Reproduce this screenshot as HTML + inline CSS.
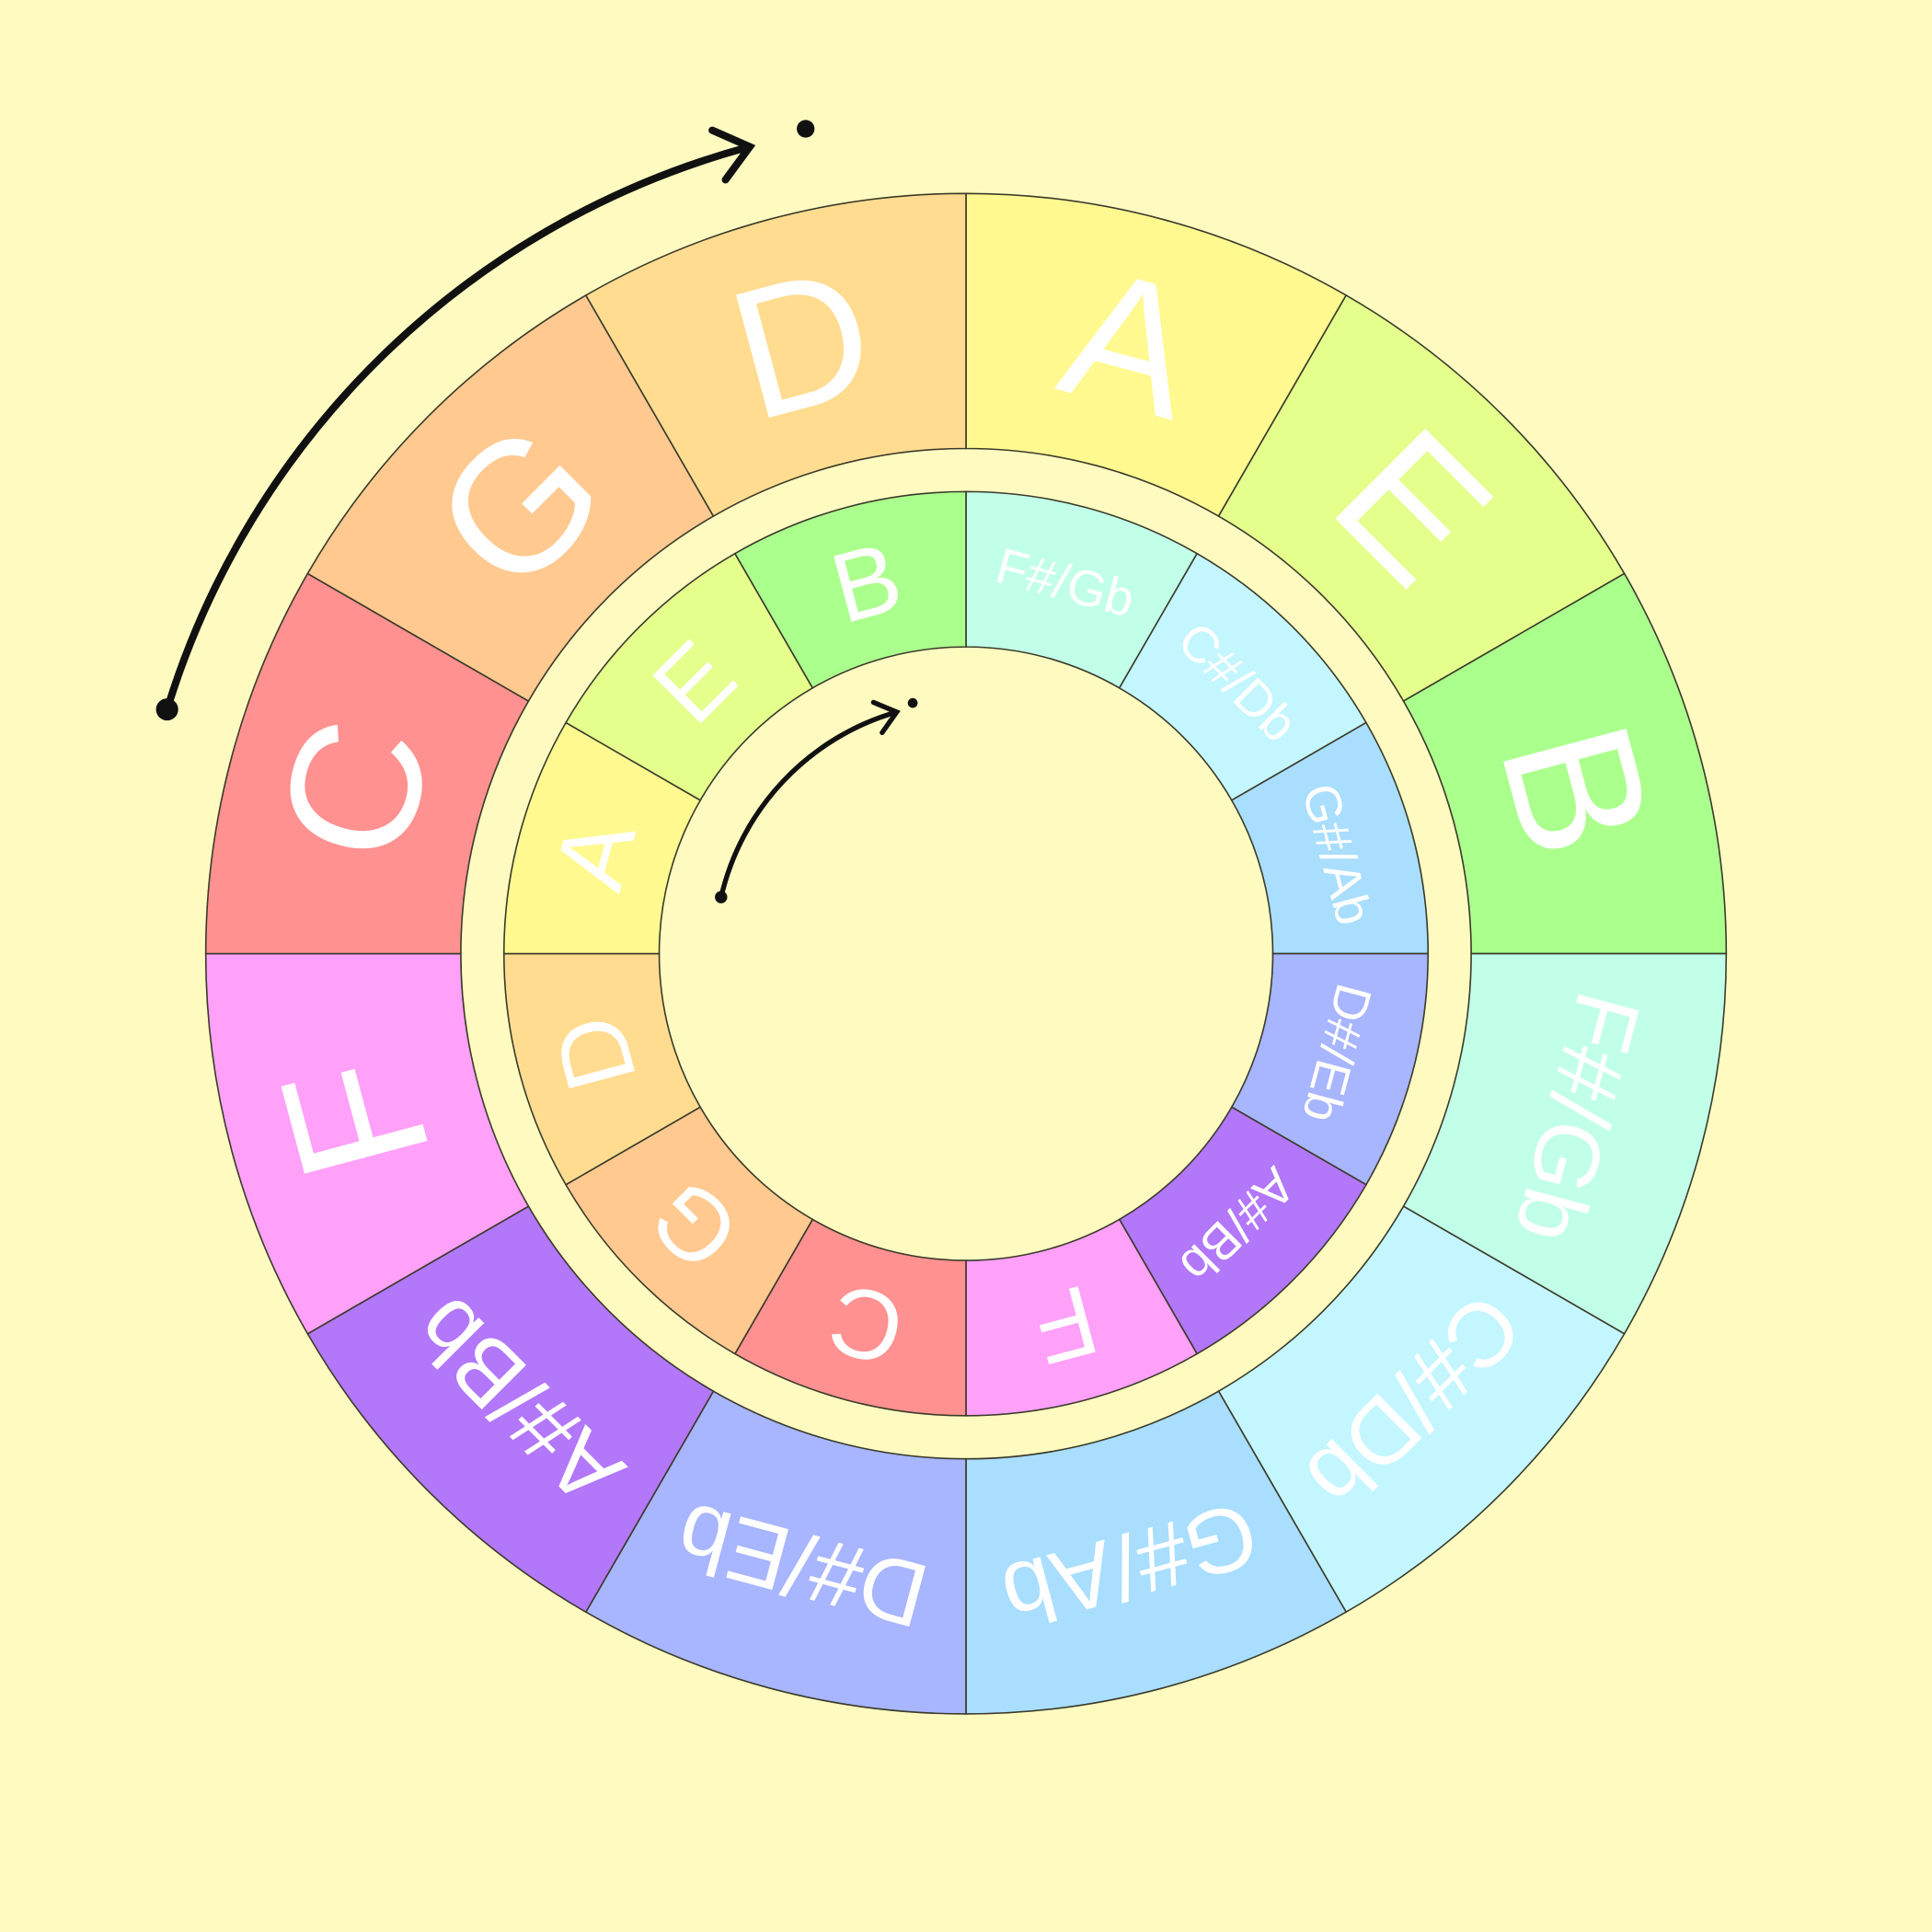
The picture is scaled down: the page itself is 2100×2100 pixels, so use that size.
<!DOCTYPE html>
<html><head><meta charset="utf-8"><style>
html,body{margin:0;padding:0;background:#fffbc0;}
svg{display:block;}
</style></head><body>
<svg id="chart" width="2100" height="2100" viewBox="0 0 1568 1568" xmlns="http://www.w3.org/2000/svg">
<rect x="0" y="0" width="1568" height="1568" fill="#fffbc0"/>
<g id="outer"></g>
<g id="inner"></g>
<g id="arrows"></g>
</svg>
<script>
const outerNotes = ["A","E","B","F#/Gb","C#/Db","G#/Ab","D#/Eb","A#/Bb","F","C","G","D"];
const innerNotes = ["F#/Gb","C#/Db","G#/Ab","D#/Eb","A#/Bb","F","C","G","D","A","E","B"];
const noteColors = {"A":"#fff98f","E":"#e4ff8c","B":"#abff8d","F#/Gb":"#c1ffe8","C#/Db":"#c4f6ff","G#/Ab":"#a9defe","D#/Eb":"#a8b5ff","A#/Bb":"#b377fa","F":"#ffa0f9","C":"#ff9190","G":"#ffc990","D":"#ffdc90"};
const outerArrowAngles = [287, 345];
const innerArrowAngles = [283, 344];

const NS = "http://www.w3.org/2000/svg";
const cx = 784, cy = 774;
function pt(r, a){ const t = (a-90)*Math.PI/180; return [cx + r*Math.cos(t), cy + r*Math.sin(t)]; }
function sector(r0, r1, a0, a1){
  const p1=pt(r1,a0), p2=pt(r1,a1), p3=pt(r0,a1), p4=pt(r0,a0);
  return `M${p1[0]},${p1[1]} A${r1},${r1} 0 0 1 ${p2[0]},${p2[1]} L${p3[0]},${p3[1]} A${r0},${r0} 0 0 0 ${p4[0]},${p4[1]} Z`;
}
function ring(gid, notes, r0, r1, fsSingle, fsMulti){
  const g = document.getElementById(gid);
  const step = 360/notes.length;
  notes.forEach((n,i)=>{
    const a0=i*step, a1=a0+step, am=a0+step/2;
    const p = document.createElementNS(NS,"path");
    p.setAttribute("d", sector(r0,r1,a0,a1));
    p.setAttribute("fill", noteColors[n]);
    p.setAttribute("stroke", "#3a3a2a");
    p.setAttribute("stroke-width", "1.2");
    
    
    g.appendChild(p);
    const rm=(r0+r1)/2, q=pt(rm,am);
    const t = document.createElementNS(NS,"text");
    t.setAttribute("x", q[0]); t.setAttribute("y", q[1]);
    t.setAttribute("transform", `rotate(${am} ${q[0]} ${q[1]})`);
    t.setAttribute("text-anchor","middle");
    t.setAttribute("dominant-baseline","central");
    t.setAttribute("fill","#ffffff");
    t.setAttribute("font-family","'Liberation Sans', sans-serif");
    t.setAttribute("font-size", n.length>1 ? fsMulti : fsSingle);
    t.textContent = n;
    
    
    g.appendChild(t);
  });
}
ring("outer", outerNotes, 410, 617, 150, 74);
ring("inner", innerNotes, 249, 375, 80, 41);

function arrow(r, angs, sw, head, dotR){
  const g = document.getElementById("arrows");
  const [a0,a1] = angs;
  const p0=pt(r,a0), p1=pt(r,a1);
  const path = document.createElementNS(NS,"path");
  path.setAttribute("d", `M${p0[0]},${p0[1]} A${r},${r} 0 0 1 ${p1[0]},${p1[1]}`);
  path.setAttribute("fill","none"); path.setAttribute("stroke","#111");
  path.setAttribute("stroke-width", sw); path.setAttribute("stroke-linecap","round");
  
  
  g.appendChild(path);
  const t = (a1-90)*Math.PI/180;
  const tx = -Math.sin(t), ty = Math.cos(t);
  const nx = Math.cos(t), ny = Math.sin(t);
  const h = document.createElementNS(NS,"path");
  const b1 = [p1[0]-tx*head+nx*head*0.8, p1[1]-ty*head+ny*head*0.8];
  const b2 = [p1[0]-tx*head-nx*head*0.8, p1[1]-ty*head-ny*head*0.8];
  h.setAttribute("d", `M${b1[0]},${b1[1]} L${p1[0]},${p1[1]} L${b2[0]},${b2[1]}`);
  h.setAttribute("fill","none"); h.setAttribute("stroke","#111");
  h.setAttribute("stroke-width", sw); h.setAttribute("stroke-linecap","round");
  
  
  g.appendChild(h);
  const d0 = document.createElementNS(NS,"circle");
  d0.setAttribute("cx",p0[0]); d0.setAttribute("cy",p0[1]); d0.setAttribute("r",dotR);
  d0.setAttribute("fill","#111");
  
  
  g.appendChild(d0);
  const pd = pt(r+4, a1+4);
  const d1 = document.createElementNS(NS,"circle");
  d1.setAttribute("cx",pd[0]); d1.setAttribute("cy",pd[1]); d1.setAttribute("r",dotR*0.8);
  d1.setAttribute("fill","#111");
  
  
  g.appendChild(d1);
}
arrow(678, outerArrowAngles, 6, 26, 9);
arrow(204, innerArrowAngles, 4, 16, 5);
</script>
</body></html>
